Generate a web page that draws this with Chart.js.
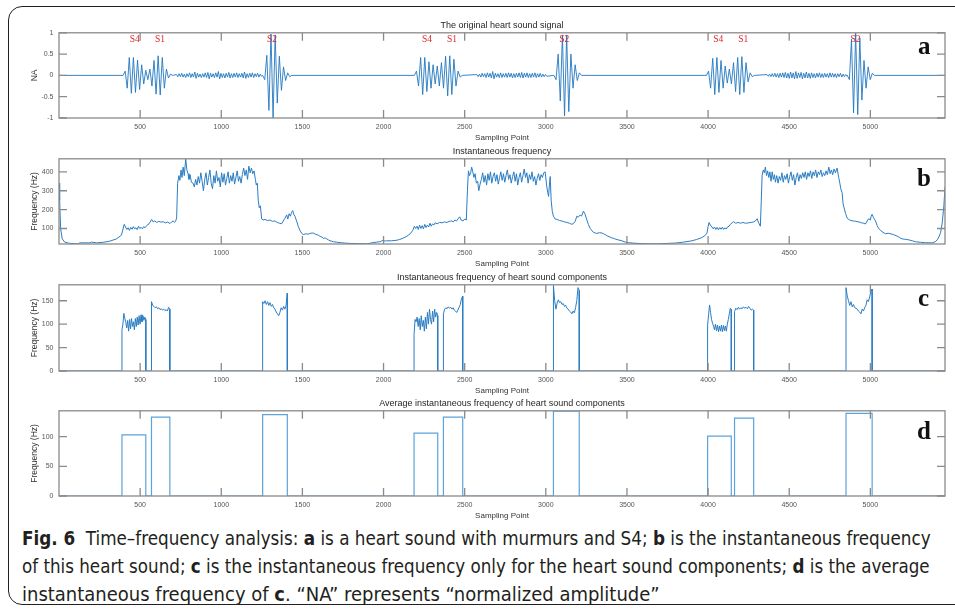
<!DOCTYPE html>
<html>
<head>
<meta charset="utf-8">
<script src="https://cdn.jsdelivr.net/npm/chart.js@4.4.1/dist/chart.umd.min.js"></script>
<style>
  html, body { margin: 0; padding: 0; background: #fff; width: 955px; height: 615px; overflow: hidden; position: relative; }
  #frame { position: absolute; left: 8px; top: 6px; width: 975px; height: 597px; border: 1.5px solid #231f20; border-radius: 14px; }
  canvas.panel { position: absolute; left: 0; }
  .tag { position: absolute; font: bold 25px 'Liberation Serif', 'Times New Roman', serif; color: #111; line-height: 25px; }
  .cap { position: absolute; left: 22px; font-family: 'Liberation Sans Narrow', 'DejaVu Sans Condensed', sans-serif;
         font-size: 20px; line-height: 28px; color: #231f20; white-space: nowrap; transform-origin: 0 50%; }
  .cap b { font-weight: bold; }
</style>
</head>
<body>
<div id="frame"></div>
<canvas class="panel" id="pa"></canvas>
<canvas class="panel" id="pb"></canvas>
<canvas class="panel" id="pc"></canvas>
<canvas class="panel" id="pd"></canvas>
<div class="tag" style="left:918px;top:33px">a</div>
<div class="tag" style="left:917px;top:165px">b</div>
<div class="tag" style="left:918px;top:285px">c</div>
<div class="tag" style="left:917px;top:418px">d</div>
<div class="cap" id="cap1" style="top:524px"><b>Fig. 6</b>&nbsp; Time–frequency analysis: <b>a</b> is a heart sound with murmurs and S4; <b>b</b> is the instantaneous frequency</div>
<div class="cap" id="cap2" style="top:552px">of this heart sound; <b>c</b> is the instantaneous frequency only for the heart sound components; <b>d</b> is the average</div>
<div class="cap" id="cap3" style="top:580px">instantaneous frequency of <b>c</b>. “NA” represents “normalized amplitude”</div>

<script>
// ---- shared axis ----
const xMax = 5460;
const xTicks = [500, 1000, 1500, 2000, 2500, 3000, 3500, 4000, 4500, 5000];

// ---- (a) original heart sound signal ----
const yTicksA = [-1, -0.5, 0, 0.5, 1];
const sigStart = [395, 724, 1255, 2190, 2575, 3050, 3990, 4363, 4858];
const sigEnd   = [700, 1248, 1435, 2485, 3006, 3220, 4285, 4856, 5025];
const s4s1A = [0, .1, -.3, .42, -.42, .42, -.4, .36, -.33, .25, -.2, .12, -.1, .15, -.25, .35, -.44, .46, -.46, .42, -.3, .15, -.06, .03, 0];
const murmurA = [.02, -.03, .04, -.03, .05, -.04, .03, -.05, .04, -.03,
  .06, -.05, .04, -.04, .08, -.07, .05, -.04, .03, -.05,
  .04, -.04, .06, -.05, .07, -.08, .05, -.04, .04, -.05,
  .06, -.04, .09, -.08, .05, -.05, .04, -.06, .05, -.04,
  .07, -.06, .04, -.05, .05, -.04, .06, -.05, .04, -.04,
  .05, -.06, .08, -.07, .04, -.05, .05, -.04, .06, -.05,
  .04, -.03, .05, -.04, .03, -.02];
const s2A = [0, -.1, .47, -.82, .97, -1, .95, -.65, .45, -.35, .2, -.12, .06, -.03, 0];
const s4s1B = [0, .1, -.25, .42, -.45, .42, -.38, .32, -.3, .25, -.2, .22, -.25, .3, -.3, .45, -.48, .46, -.45, .38, -.25, .1, -.04, 0];
const murmurB = [.02, -.03, .03, -.04, .05, -.03, .04, -.05, .06, -.04,
  .05, -.06, .09, -.08, .05, -.04, .04, -.05, .06, -.05,
  .04, -.04, .05, -.05, .06, -.04, .05, -.06, .04, -.05,
  .05, -.04, .06, -.05, .07, -.06, .05, -.04, .06, -.05,
  .04, -.05, .05, -.04, .06, -.05, .04, -.04, .05, -.04,
  .03, -.03, .02, -.02];
const s2B = [0, -.1, .5, -.6, .95, -.95, .95, -.85, .5, -.3, .25, -.12, .06, 0];
const s4s1C = [0, .1, -.3, .4, -.45, .42, -.4, .35, -.3, .22, -.18, .15, -.2, .3, -.38, .42, -.45, .44, -.4, .3, -.15, .06, -.03, 0];
const murmurC = [.02, -.02, .03, -.03, .04, -.03, .05, -.04, .04, -.05,
  .05, -.04, .06, -.05, .07, -.06, .05, -.07, .08, -.06,
  .06, -.08, .09, -.07, .06, -.05, .07, -.08, .05, -.06,
  .08, -.06, .05, -.07, .06, -.05, .04, -.06, .05, -.04,
  .06, -.05, .04, -.05, .05, -.04, .04, -.05, .06, -.04,
  .05, -.04, .04, -.05, .04, -.03, .05, -.04, .03, -.03, .02, -.02];
const s2C = [0, -.1, .85, -.88, 1, -.92, .88, -.58, .35, -.3, .2, -.1, .05, 0];
const sigVals = [s4s1A, murmurA, s2A, s4s1B, murmurB, s2B, s4s1C, murmurC, s2C];
const sndLabels = ['S4', 'S1', 'S2', 'S4', 'S1', 'S2', 'S4', 'S1', 'S2'];
const sndLabelX = [467, 622, 1312, 2268, 2422, 3113, 4063, 4217, 4908];

// ---- (b) instantaneous frequency ----
const yTicksB = [100, 200, 300, 400];
const freqX = [
  0, 4, 10, 20, 35, 66, 118, 128, 190, 200, 231, 272, 313, 354, 385, 402,
  410, 418, 426, 434, 442, 450, 458, 466, 474, 482, 490, 498, 506, 514, 522, 530, 540,
  555, 571, 580, 590, 602, 615, 628, 643, 655, 670, 684, 694, 704, 712, 718, 725, 731,
  739, 745, 752, 758, 765, 772, 781, 788, 795, 801, 808, 816, 826, 834, 842, 850, 858, 866, 874, 882,
  890, 898, 906, 914, 922, 930, 938, 946, 954, 962, 970, 978, 986, 994, 1002, 1010, 1018, 1026, 1034, 1042,
  1050, 1058, 1066, 1074, 1082, 1090, 1098, 1106, 1114, 1122, 1130, 1138, 1146, 1154, 1162, 1170, 1178, 1186, 1194, 1202,
  1210, 1216, 1222, 1228, 1234, 1241, 1249, 1258, 1270, 1285, 1300, 1315, 1330, 1345, 1358, 1372,
  1382, 1393, 1403, 1410, 1418, 1426, 1433, 1440, 1447, 1454, 1464, 1475, 1485, 1495, 1505, 1520,
  1536, 1550, 1567, 1580, 1598, 1609, 1620, 1629, 1640, 1650, 1660, 1670, 1680, 1691, 1710, 1732,
  1760, 1794, 1850, 1897, 1917, 1935, 1959, 1979, 1990, 1999, 2010, 2020, 2050, 2082, 2100, 2123,
  2145, 2164, 2180, 2190, 2198, 2206, 2214, 2222, 2230, 2238, 2246, 2254, 2262, 2270, 2278, 2286,
  2294, 2302, 2310, 2318, 2330, 2345, 2360, 2375, 2390, 2405, 2420, 2430, 2440, 2450, 2462, 2469,
  2478, 2490, 2500, 2510, 2517, 2523, 2530, 2537, 2543, 2550, 2557, 2564, 2572, 2580, 2587, 2595,
  2603, 2611, 2619, 2627, 2635, 2643, 2651, 2659, 2667, 2675, 2683, 2691, 2699, 2707, 2715, 2723, 2731, 2739, 2747, 2755,
  2763, 2771, 2779, 2787, 2795, 2803, 2811, 2819, 2827, 2835, 2843, 2851, 2859, 2867, 2875, 2883, 2891, 2899, 2907, 2915,
  2923, 2931, 2939, 2947, 2955, 2963, 2971, 2979, 2987, 2996, 3006, 3012, 3017, 3022, 3027, 3033, 3040, 3047, 3058, 3070,
  3085, 3099, 3115, 3130, 3145, 3161, 3172, 3181, 3191, 3200, 3212, 3220, 3232, 3242, 3253, 3263,
  3274, 3284, 3294, 3305, 3315, 3330, 3346, 3356, 3366, 3380, 3395, 3407, 3418, 3428, 3445, 3469,
  3490, 3510, 3550, 3592, 3640, 3695, 3750, 3798, 3850, 3901, 3930, 3962, 3980, 3993, 4000, 4006,
  4014, 4024, 4032, 4040, 4048, 4056, 4064, 4072, 4080, 4088, 4096, 4104, 4112, 4120, 4130, 4137,
  4148, 4158, 4170, 4185, 4200, 4215, 4230, 4250, 4265, 4280, 4291, 4302, 4312, 4322, 4328, 4333,
  4340, 4347, 4353, 4360, 4367, 4374, 4381, 4388, 4395, 4402, 4409, 4415, 4423, 4431, 4439, 4447, 4455, 4463, 4471, 4479,
  4487, 4495, 4503, 4511, 4519, 4527, 4535, 4543, 4551, 4559, 4567, 4575, 4583, 4591, 4599, 4607, 4615, 4623, 4631, 4639,
  4647, 4655, 4663, 4671, 4679, 4687, 4695, 4703, 4711, 4719, 4727, 4735, 4744, 4752, 4760, 4768, 4776, 4785, 4795, 4805,
  4812, 4818, 4826, 4832, 4838, 4847, 4857, 4867, 4880, 4895, 4910, 4929, 4945, 4958, 4970, 4980,
  4990, 5000, 5005, 5011, 5018, 5025, 5032, 5042, 5052, 5065, 5078, 5093, 5110, 5134, 5150, 5165,
  5180, 5196, 5215, 5237, 5258, 5278, 5310, 5340, 5381, 5400, 5412, 5425, 5433, 5443, 5453, 5460
];
const freqY = [
  340, 250, 100, 45, 28, 21, 19, 24, 24, 28, 24, 27, 33, 45, 65, 122,
  108, 95, 104, 90, 106, 96, 110, 98, 104, 94, 112, 100, 106, 98, 110, 104, 115,
  125, 148, 135, 140, 132, 138, 134, 136, 130, 134, 126, 135, 140, 132, 138, 155, 340,
  380, 355, 410, 370, 425, 380, 468, 410, 390, 360, 385, 345, 340, 320, 360, 330, 375, 340, 395, 350,
  300, 360, 395, 330, 370, 410, 340, 310, 380, 340, 405, 350, 370, 320, 395, 345, 390, 330, 365, 400,
  340, 380, 350, 395, 335, 370, 405, 350, 375, 340, 385, 420, 380, 410, 360, 430, 395, 420, 390, 405,
  360, 330, 340, 250, 210, 220, 150, 145, 148, 142, 145, 138, 140, 132, 128, 125,
  140, 155, 172, 150, 178, 165, 185, 195, 175, 165, 140, 110, 90, 75, 68, 72,
  70, 75, 76, 70, 65, 58, 55, 48, 50, 45, 40, 35, 33, 30, 28, 25,
  23, 21, 20, 19, 22, 25, 28, 30, 35, 38, 33, 35, 35, 38, 42, 50,
  60, 72, 90, 112, 100, 112, 95, 118, 100, 115, 98, 122, 105, 118, 108, 128,
  112, 125, 118, 130, 125, 132, 130, 135, 132, 138, 140, 135, 145, 140, 155, 162,
  145, 140, 150, 145, 300, 405, 380, 395, 425, 400, 370, 390, 340, 350, 300, 335,
  360, 395, 345, 380, 330, 390, 355, 400, 340, 375, 395, 350, 385, 335, 370, 400, 355, 390, 345, 380,
  410, 360, 385, 340, 375, 400, 350, 390, 330, 370, 395, 345, 380, 415, 370, 395, 340, 385, 360, 400,
  350, 375, 330, 365, 390, 355, 385, 370, 395, 400, 320, 290, 270, 330, 375, 250, 190, 165, 150, 148,
  142, 140, 135, 132, 128, 122, 128, 138, 165, 160, 172, 165, 192, 175, 145, 120,
  100, 88, 80, 76, 74, 78, 76, 72, 68, 60, 55, 50, 48, 44, 40, 35,
  28, 25, 22, 20, 19, 19, 21, 23, 28, 35, 42, 52, 62, 75, 110, 132,
  118, 108, 98, 108, 95, 106, 93, 105, 96, 107, 95, 104, 97, 108, 112, 122,
  130, 136, 128, 132, 128, 132, 128, 130, 132, 135, 140, 152, 130, 112, 250, 380,
  410, 395, 425, 380, 405, 370, 400, 350, 400, 360, 385, 345, 380, 340, 375, 355, 395, 345, 380, 360,
  390, 340, 375, 400, 355, 385, 330, 370, 395, 350, 385, 365, 395, 370, 400, 360, 395, 375, 405, 365,
  400, 380, 410, 370, 400, 385, 410, 375, 395, 380, 405, 385, 425, 390, 410, 385, 415, 395, 420, 370,
  340, 310, 290, 230, 210, 180, 155, 148, 142, 140, 138, 135, 130, 128, 124, 140,
  152, 145, 165, 175, 160, 150, 140, 115, 100, 88, 80, 72, 75, 70, 65, 60,
  52, 45, 43, 40, 35, 30, 27, 25, 24, 30, 40, 60, 80, 130, 220, 320
];

// ---- (c) components, (d) their average ----
const yTicksC = [0, 50, 100, 150];
const yTicksD = [0, 50, 100];
const compStart = [388, 570, 1255, 2188, 2369, 3047, 3997, 4163, 4850];
const compEnd   = [535, 683, 1407, 2334, 2488, 3206, 4143, 4281, 5011];
const compFreq = [
  [88, 100, 123, 112, 104, 92, 108, 85, 110, 90, 112, 95, 105, 88, 112, 95, 115, 98, 118, 100, 120, 105, 118, 108, 115, 110],
  [148, 140, 138, 135, 137, 133, 135, 131, 133, 130, 132, 129, 131, 128, 136, 132],
  [148, 144, 150, 142, 148, 140, 146, 138, 142, 135, 132, 126, 122, 118, 125, 135, 130, 138, 132, 140, 166],
  [78, 110, 105, 115, 95, 112, 88, 118, 95, 108, 85, 115, 90, 125, 100, 132, 110, 100, 128, 105, 132, 115, 125, 118],
  [122, 132, 135, 133, 137, 134, 136, 132, 135, 130, 128, 125, 130, 136, 142, 155, 160],
  [183, 150, 132, 145, 152, 146, 148, 142, 144, 138, 140, 134, 132, 128, 126, 122, 128, 124, 135, 150, 178, 172],
  [98, 120, 141, 125, 110, 102, 96, 88, 100, 86, 98, 84, 96, 85, 98, 84, 97, 86, 96, 85, 100, 110, 122, 134, 132],
  [127, 134, 131, 136, 132, 135, 133, 137, 134, 136, 133, 138, 134, 130, 132, 130],
  [178, 160, 150, 140, 148, 137, 142, 135, 134, 132, 128, 126, 122, 132, 128, 135, 140, 152, 148, 158, 170, 175]
];
const avgFreq = [103, 133, 137, 106, 133, 143, 101, 131, 139];

// ---------------------------------------------------------------
Chart.defaults.font.family = "'Liberation Sans', Arial, sans-serif";

function spread(start, end, vals) {
  const step = (end - start) / (vals.length - 1);
  return vals.map((v, i) => ({ x: start + i * step, y: v }));
}

let ptsA = [{ x: 0, y: 0 }];
sigVals.forEach((v, i) => { ptsA = ptsA.concat(spread(sigStart[i], sigEnd[i], v)); });
ptsA.push({ x: xMax, y: 0 });

const ptsB = freqX.map((x, i) => ({ x: x, y: freqY[i] }));
if (freqX.length !== freqY.length) console.error('freq arrays differ', freqX.length, freqY.length);

let ptsC = [{ x: 0, y: 0 }];
compFreq.forEach((v, i) => {
  ptsC.push({ x: compStart[i], y: 0 });
  ptsC = ptsC.concat(spread(compStart[i], compEnd[i], v));
  ptsC.push({ x: compEnd[i], y: 0 });
});
ptsC.push({ x: xMax, y: 0 });

let ptsD = [{ x: 0, y: 0 }];
avgFreq.forEach((v, i) => {
  ptsD.push({ x: compStart[i], y: 0 }, { x: compStart[i], y: v }, { x: compEnd[i], y: v }, { x: compEnd[i], y: 0 });
});
ptsD.push({ x: xMax, y: 0 });

// matlab-style box with inward ticks
const axesBox = {
  id: 'axesBox',
  afterDatasetsDraw(chart) {
    const { ctx, chartArea: a, scales: { x, y } } = chart;
    ctx.save();
    ctx.strokeStyle = '#8a8a8a';
    ctx.lineWidth = 1.3;
    ctx.strokeRect(a.left, a.top, a.right - a.left, a.bottom - a.top);
    ctx.beginPath();
    x.ticks.forEach(t => {
      const px = x.getPixelForValue(t.value);
      ctx.moveTo(px, a.bottom); ctx.lineTo(px, a.bottom - 8);
      ctx.moveTo(px, a.top); ctx.lineTo(px, a.top + 8);
    });
    y.ticks.forEach(t => {
      const py = y.getPixelForValue(t.value);
      ctx.moveTo(a.left, py); ctx.lineTo(a.left + 8, py);
      ctx.moveTo(a.right, py); ctx.lineTo(a.right - 8, py);
    });
    ctx.stroke();
    ctx.restore();
  }
};

const soundLabels = {
  id: 'soundLabels',
  afterDatasetsDraw(chart) {
    const { ctx, chartArea: a, scales: { x } } = chart;
    ctx.save();
    ctx.fillStyle = '#e0262b';
    ctx.font = "9.5px 'Liberation Serif', serif";
    ctx.textAlign = 'center';
    ctx.textBaseline = 'middle';
    sndLabels.forEach((s, i) => ctx.fillText(s, x.getPixelForValue(sndLabelX[i]), a.top + 7));
    ctx.restore();
  }
};

function makePanel(id, top, bottom, title, yTitle, yMin, yMax, yTicks, pts, color, lw, extra) {
  const canvas = document.getElementById(id);
  const titleH = 14.8;
  canvas.width = 955;
  canvas.height = Math.round(titleH + (bottom - top) + 25);
  canvas.style.top = (top - titleH) + 'px';
  return new Chart(canvas, {
    type: 'line',
    data: {
      datasets: [{
        data: pts,
        borderColor: color,
        borderWidth: lw,
        pointRadius: 0,
        tension: 0,
        fill: false
      }]
    },
    options: {
      responsive: false,
      animation: false,
      events: [],
      layout: { padding: { left: 26, right: 10, top: 0, bottom: 0 } },
      plugins: {
        legend: { display: false },
        tooltip: { enabled: false },
        title: {
          display: true, text: title, fullSize: false, color: '#262626',
          font: { size: 9, weight: 'normal' }, padding: { top: 2.4, bottom: 1.6 }
        }
      },
      scales: {
        x: {
          type: 'linear', min: 0, max: xMax,
          grid: { display: false, drawTicks: false },
          border: { display: false },
          afterBuildTicks: s => { s.ticks = xTicks.map(v => ({ value: v })); },
          afterFit: s => { s.height = 25; },
          ticks: { padding: 5, color: '#555', font: { size: 7 }, maxRotation: 0, autoSkip: false, callback: v => String(v) },
          title: { display: true, text: 'Sampling Point', color: '#333', font: { size: 8 }, padding: 0 }
        },
        y: {
          min: yMin, max: yMax,
          grid: { display: false, drawTicks: false },
          border: { display: false },
          afterBuildTicks: s => { s.ticks = yTicks.map(v => ({ value: v })); },
          afterFit: s => { s.width = 33; },
          ticks: { padding: 5.5, color: '#555', font: { size: 7 }, autoSkip: false, callback: v => String(v) },
          title: { display: true, text: yTitle, color: '#333', font: { size: 8.5 }, padding: { top: 4, bottom: 0 } }
        }
      }
    },
    plugins: extra ? [axesBox, extra] : [axesBox]
  });
}

makePanel('pa', 33, 118, 'The original heart sound signal', 'NA', -1, 1, yTicksA, ptsA, '#2277c0', 0.9, soundLabels);
makePanel('pb', 159, 244, 'Instantaneous frequency', 'Frequency (Hz)', 18, 469, yTicksB, ptsB, '#2b7dc3', 1);
makePanel('pc', 285, 371, 'Instantaneous frequency of heart sound components', 'Frequency (Hz)', 0, 184, yTicksC, ptsC, '#2b7dc3', 1);
makePanel('pd', 411, 496, 'Average instantaneous frequency of heart sound components', 'Frequency (Hz)', 0, 143.5, yTicksD, ptsD, '#5ba3db', 1.2);

// fit caption lines to their printed widths
function fitCaption() {
  [['cap1', 909], ['cap2', 908], ['cap3', 638]].forEach(([id, w]) => {
    const el = document.getElementById(id);
    el.style.transform = 'scaleX(' + (w / el.offsetWidth) + ')';
  });
}
fitCaption();
if (document.fonts && document.fonts.ready) document.fonts.ready.then(fitCaption);
</script>
</body>
</html>
